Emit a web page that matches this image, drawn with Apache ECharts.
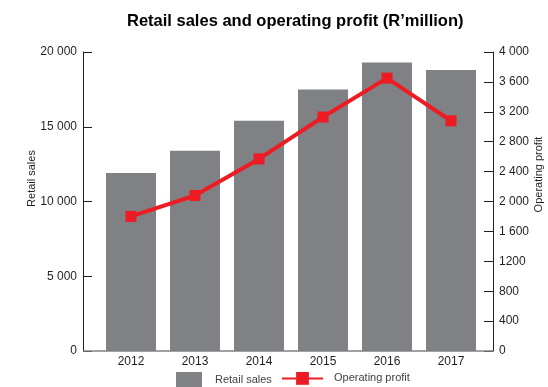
<!DOCTYPE html>
<html>
<head>
<meta charset="utf-8">
<script src="https://cdn.jsdelivr.net/npm/echarts@6/dist/echarts.min.js"></script>
<style>
  html, body { margin: 0; padding: 0; background: #fff; overflow: hidden; }
  #chart { width: 548px; height: 387px; }
</style>
</head>
<body>
<div id="chart"></div>
<script>
// Yearly figures (R'million)
const years = ['2012', '2013', '2014', '2015', '2016', '2017'];
const retailSales = [11900, 13400, 15400, 17500, 19300, 18800];
const operatingProfit = [1800, 2080, 2570, 3130, 3650, 3080];

// Axis tick labels as printed
const salesTickLabels = ['0', '5 000', '10 000', '15 000', '20 000'];
const profitTickLabels = ['0', '400', '800', '1200', '1 600', '2 000', '2 400', '2 800', '3 200', '3 600', '4 000'];

const GRID = { left: 99, right: 65, top: 52, bottom: 36 };
const LEFT_OFFSET = 16;
const RIGHT_OFFSET = 10;

const barColor = '#808184';
const red = '#ed1c24';
const ink = '#231f20';
const font = '"Liberation Sans", Arial, Helvetica, sans-serif';

const chart = echarts.init(document.getElementById('chart'), null, { renderer: 'canvas' });

chart.setOption({
  animation: false,
  backgroundColor: '#ffffff',
  textStyle: { fontFamily: font },
  title: {
    text: 'Retail sales and operating profit (R\u2019million)',
    left: 127,
    top: 13,
    padding: 0,
    textStyle: { fontFamily: font, fontSize: 16.5, fontWeight: 'bold', color: '#000' }
  },
  legend: [
    {
      data: [{ name: 'Retail sales', icon: 'rect' }],
      left: 176, top: 372,
      padding: 0,
      itemWidth: 26, itemHeight: 15,
      textStyle: { fontFamily: font, fontSize: 11, color: '#414042', padding: [0, 0, 0, 8] }
    },
    {
      data: ['Operating profit'],
      left: 281, top: 372,
      padding: 0,
      itemWidth: 41, itemHeight: 16,
      textStyle: { fontFamily: font, fontSize: 11, color: '#414042', padding: [0, 0, 0, 6] }
    }
  ],
  grid: Object.assign({ containLabel: false, outerBoundsMode: 'none' }, GRID),
  xAxis: {
    type: 'category',
    data: years,
    axisLine: { show: false },
    axisTick: { show: false },
    axisLabel: { color: ink, fontSize: 12, margin: 5, fontFamily: font }
  },
  yAxis: [
    {
      type: 'value',
      min: 0, max: 20000, interval: 5000,
      offset: LEFT_OFFSET,
      name: 'Retail sales',
      nameLocation: 'middle',
      nameGap: 46,
      nameRotate: 90,
      nameMoveOverlap: false,
      nameTextStyle: { fontFamily: font, fontSize: 11, color: ink, padding: [0, 0, 0, 46] },
      axisLine: { show: true, lineStyle: { color: ink, width: 1 } },
      axisTick: { show: true, inside: true, length: 9, lineStyle: { color: ink } },
      axisLabel: {
        color: ink, fontSize: 12, margin: 6, fontFamily: font,
        formatter: v => salesTickLabels[Math.round(v / 5000)]
      },
      splitLine: { show: false }
    },
    {
      type: 'value',
      min: 0, max: 4000, interval: 400,
      offset: RIGHT_OFFSET,
      position: 'right',
      name: 'Operating profit',
      nameLocation: 'middle',
      nameGap: 40,
      nameRotate: 90,
      nameMoveOverlap: false,
      nameTextStyle: { fontFamily: font, fontSize: 11, color: ink, padding: [0, 0, 0, 54] },
      axisLine: { show: true, lineStyle: { color: ink, width: 1 } },
      axisTick: { show: true, inside: true, length: 9, lineStyle: { color: ink } },
      axisLabel: {
        color: ink, fontSize: 12, margin: 6, fontFamily: font,
        formatter: v => profitTickLabels[Math.round(v / 400)]
      },
      splitLine: { show: false }
    }
  ],
  series: [
    {
      name: 'Retail sales',
      type: 'bar',
      yAxisIndex: 0,
      data: retailSales,
      barWidth: 50,
      itemStyle: { color: barColor },
      z: 2
    },
    {
      name: 'Operating profit',
      type: 'line',
      yAxisIndex: 1,
      data: operatingProfit,
      symbol: 'rect',
      symbolSize: 11,
      lineStyle: { color: red, width: 4 },
      itemStyle: { color: red },
      z: 3
    }
  ]
});

// Baseline running between the two value axes
const rect = chart.getModel().getComponent('grid', 0).coordinateSystem.getRect();
const baseY = chart.convertToPixel({ yAxisIndex: 0 }, 0);
chart.setOption({
  graphic: [{
    type: 'line',
    z: 1,
    shape: {
      x1: rect.x - LEFT_OFFSET,
      y1: baseY,
      x2: rect.x + rect.width + RIGHT_OFFSET,
      y2: baseY
    },
    style: { stroke: '#808285', lineWidth: 1.5 }
  }]
});
</script>
</body>
</html>
